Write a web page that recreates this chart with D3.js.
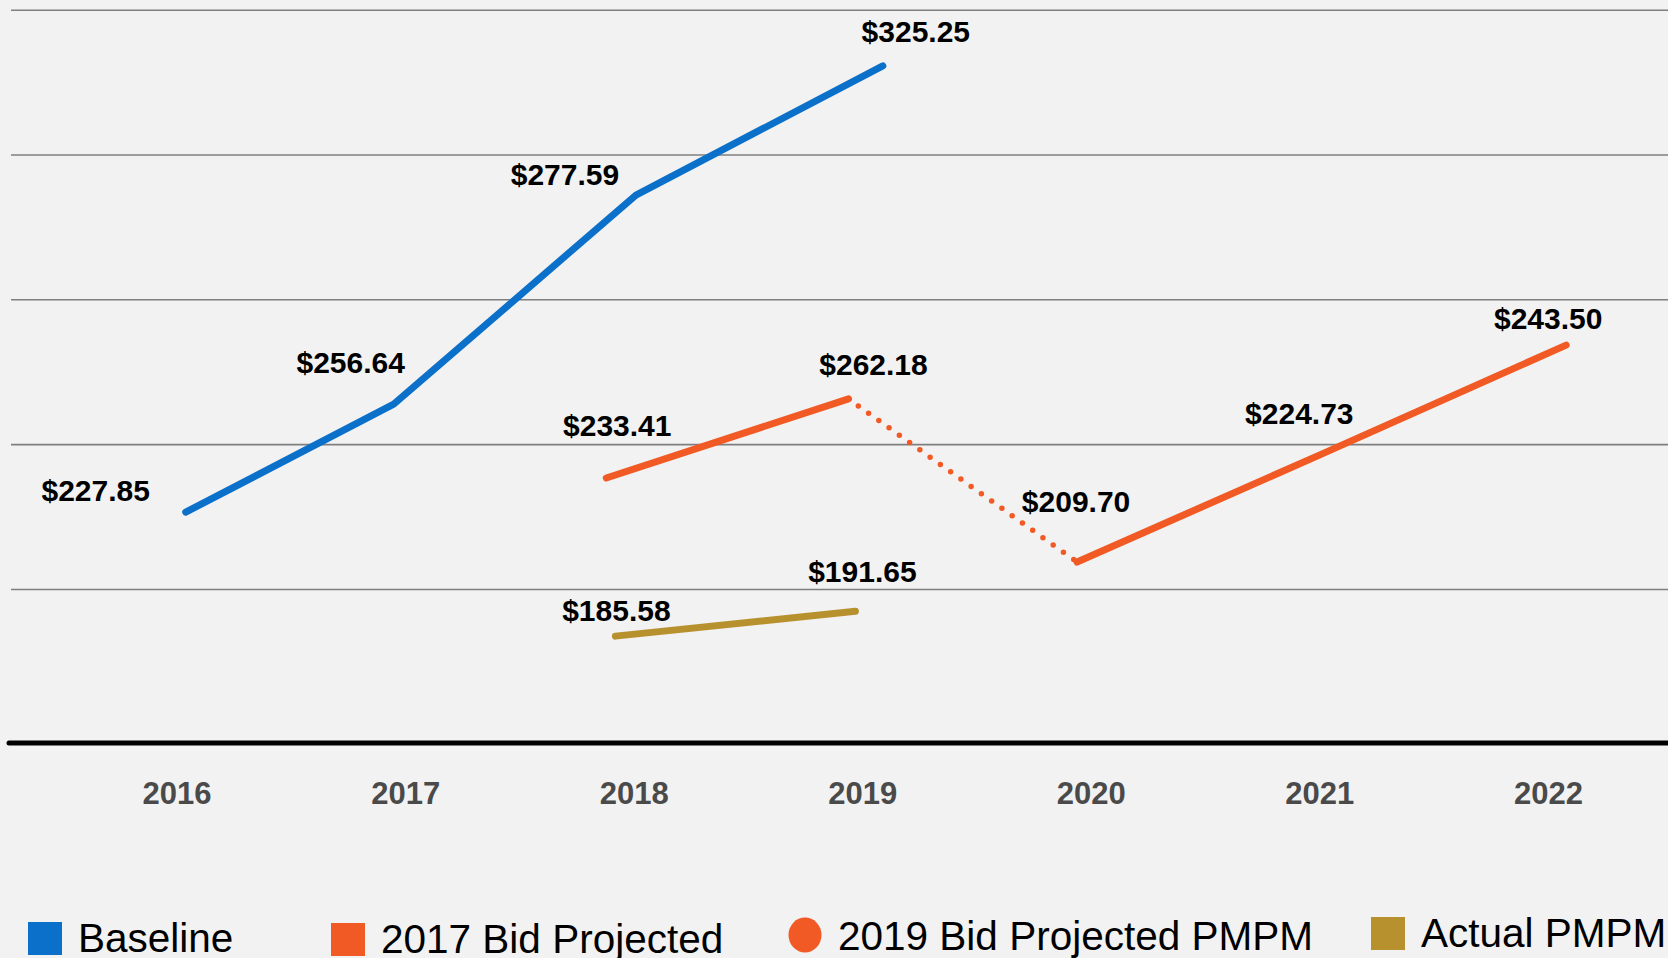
<!DOCTYPE html>
<html>
<head>
<meta charset="utf-8">
<script src="https://cdn.jsdelivr.net/npm/d3@7"></script>
<style>
  html, body { margin: 0; padding: 0; background: #f2f2f2; overflow: hidden; }
  svg { display: block; font-family: "Liberation Sans", Arial, sans-serif; }
</style>
</head>
<body>
<svg id="chart" width="1668" height="958"></svg>
<script>
// ── Data ─────────────────────────────────────────────────────────────────────
// x is the year position of each vertex, y is the plotted level against the gridlines
const YEARS = [2016, 2017, 2018, 2019, 2020, 2021, 2022];
const GRID_LEVELS = [150, 200, 250, 300, 350];
const Y_FLOOR = 96.8;

const baselineYears  = [2016.04, 2016.95, 2018.01, 2019.09];
const baselineLevel  = [176.5, 213.8, 286.0, 330.6];
const baselineLabels = ['$227.85', '$256.64', '$277.59', '$325.25'];

const bid2017Years  = [2017.88, 2018.94];
const bid2017Level  = [188.3, 215.6];
const bid2017Labels = ['$233.41', '$262.18'];

const bid2019Years  = [2019.94, 2021.0, 2022.08];
const bid2019Level  = [159.3, 196.2, 234.2];
const bid2019Labels = ['$209.70', '$224.73', '$243.50'];

const actualYears  = [2017.92, 2018.97];
const actualLevel  = [133.7, 142.3];
const actualLabels = ['$185.58', '$191.65'];

const LEGEND_NAMES = ['Baseline', '2017 Bid Projected', '2019 Bid Projected PMPM', 'Actual PMPM'];

// ── Layout ────────────────────────────────────────────────────────────────────
const W = 1668, H = 958;
const COLORS = { baseline: '#0b70c9', bid: '#f15a24', actual: '#b8912f' };

// label offsets from their point, [dx, dy] in px (hand placed in the original)
const NUDGE = {
    baseline: [[-90, -11], [-43, -31], [-71, -10], [33, -24]],
    bid2017:  [[11, -42], [25, -24]],
    bid2019:  [[-1, -50], [-20, -31], [-18, -16]],
    actual:   [[1, -15], [7, -29]]
};

const svg = d3.select('#chart');

const x = d3.scaleLinear().domain([2016, 2022]).range([176.6, 1547.9]);
const y = d3.scaleLinear().domain([Y_FLOOR, 350]).range([743, 9.7]);

const zip = (xs, ys) => xs.map((v, i) => ({ x: v, y: ys[i] }));

// ── Gridlines ─────────────────────────────────────────────────────────────────
const gridG = svg.append('g').attr('transform', 'translate(11,0)')
    .call(d3.axisLeft(y).tickValues(GRID_LEVELS).tickSize(-(W - 11)).tickFormat(''));
gridG.select('.domain').remove();
gridG.selectAll('line').attr('stroke', '#7f7f7f').attr('stroke-width', 1.6);

// ── X axis ────────────────────────────────────────────────────────────────────
svg.append('line')
    .attr('x1', 9).attr('x2', W + 5)
    .attr('y1', y(Y_FLOOR)).attr('y2', y(Y_FLOOR))
    .attr('stroke', '#000').attr('stroke-width', 5).attr('stroke-linecap', 'round');

const xAxis = svg.append('g')
    .attr('transform', `translate(0,${y(Y_FLOOR)})`)
    .call(d3.axisBottom(x).tickValues(YEARS).tickFormat(d3.format('d')).tickSize(0).tickPadding(38.6));
xAxis.select('.domain').remove();
xAxis.selectAll('text')
    .attr('font-family', '"Liberation Sans", Arial, sans-serif')
    .attr('font-size', 31).attr('font-weight', 'bold').attr('fill', '#4a4a4a');

// ── Lines ─────────────────────────────────────────────────────────────────────
const line = d3.line().x(d => x(d.x)).y(d => y(d.y));

const series = [
    { key: 'baseline', pts: zip(baselineYears, baselineLevel), labels: baselineLabels, color: COLORS.baseline },
    { key: 'bid2017',  pts: zip(bid2017Years, bid2017Level),   labels: bid2017Labels,  color: COLORS.bid },
    { key: 'bid2019',  pts: zip(bid2019Years, bid2019Level),   labels: bid2019Labels,  color: COLORS.bid },
    { key: 'actual',   pts: zip(actualYears, actualLevel),     labels: actualLabels,   color: COLORS.actual }
];

// dotted connector between the two bid projections
const bridge = [series[1].pts[series[1].pts.length - 1], series[2].pts[0]];
svg.append('path')
    .datum(bridge)
    .attr('d', line)
    .attr('fill', 'none')
    .attr('stroke', COLORS.bid)
    .attr('stroke-width', 5.5)
    .attr('stroke-linecap', 'round')
    .attr('stroke-dasharray', '0 12.6')
    .attr('stroke-dashoffset', -12);

series.forEach(s => {
    svg.append('path')
        .datum(s.pts)
        .attr('d', line)
        .attr('fill', 'none')
        .attr('stroke', s.color)
        .attr('stroke-width', 7)
        .attr('stroke-linecap', 'round')
        .attr('stroke-linejoin', 'round');
});

// ── Value labels ──────────────────────────────────────────────────────────────
series.forEach(s => {
    svg.append('g').selectAll('text')
        .data(s.pts)
        .join('text')
        .attr('x', (d, i) => x(d.x) + NUDGE[s.key][i][0])
        .attr('y', (d, i) => y(d.y) + NUDGE[s.key][i][1])
        .attr('text-anchor', 'middle')
        .attr('font-size', 30)
        .attr('font-weight', 'bold')
        .attr('fill', '#000')
        .text((d, i) => s.labels[i]);
});

// ── Legend ────────────────────────────────────────────────────────────────────
const legendItems = [
    { name: LEGEND_NAMES[0], color: COLORS.baseline, shape: 'square', x: 28,   base: 952 },
    { name: LEGEND_NAMES[1], color: COLORS.bid,      shape: 'square', x: 331,  base: 953 },
    { name: LEGEND_NAMES[2], color: COLORS.bid,      shape: 'circle', x: 788,  base: 950 },
    { name: LEGEND_NAMES[3], color: COLORS.actual,   shape: 'square', x: 1371, base: 947 }
];

const lg = svg.append('g').selectAll('g')
    .data(legendItems)
    .join('g')
    .attr('transform', d => `translate(${d.x},${d.base})`);

lg.filter(d => d.shape === 'square').append('rect')
    .attr('x', 0).attr('y', -30).attr('width', 34).attr('height', 33)
    .attr('fill', d => d.color);

lg.filter(d => d.shape === 'circle').append('ellipse')
    .attr('cx', 17).attr('cy', -15).attr('rx', 16.5).attr('ry', 17.5)
    .attr('fill', d => d.color);

lg.append('text')
    .attr('x', 50)
    .attr('y', 0)
    .attr('font-size', 40.5)
    .attr('fill', '#000')
    .text(d => d.name);
</script>
</body>
</html>
